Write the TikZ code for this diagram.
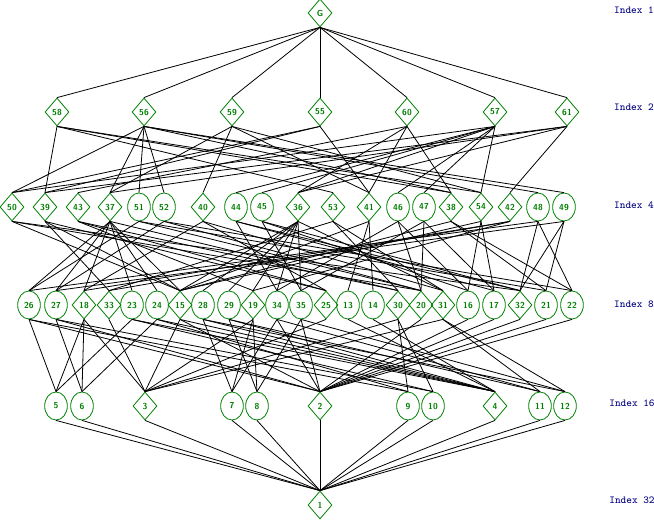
\documentclass[tikz,border=0pt]{standalone}
\usetikzlibrary{shapes.geometric}
\definecolor{vgreen}{rgb}{0,0.5,0}
\definecolor{idxblue}{rgb}{0,0,0.5}
\begin{document}
\begin{tikzpicture}[x=0.75pt,y=-0.75pt,
    nsub/.style={diamond,draw=vgreen,text=vgreen,inner sep=0pt,
      minimum width=18pt,minimum height=21pt,line width=0.6pt,
      font=\fontsize{6.5}{6.5}\sffamily\bfseries},
    csub/.style={ellipse,draw=vgreen,text=vgreen,inner sep=0pt,
      minimum width=17pt,minimum height=21pt,line width=0.6pt,
      font=\fontsize{6.5}{6.5}\sffamily\bfseries},
    idx/.style={text=idxblue,font=\fontsize{8}{8}\ttfamily},
    edge/.style={line width=0.6pt}]
    \useasboundingbox (0,0) rectangle (654,519);
    % levels
    \node[idx] (i1) at (634,10) {Index 1};
    \node[idx] (i2) at (634,107) {Index 2};
    \node[idx] (i4) at (634,205) {Index 4};
    \node[idx] (i8) at (634,304) {Index 8};
    \node[idx] (i16) at (632,403) {Index 16};
    \node[idx] (i32) at (632,500) {Index 32};
    % subgroups
    \node[nsub] (G) at (320,13) {G};
    \foreach \n/\x in {58/57,56/144,59/232,55/320,60/407,57/495,61/567}
        \node[nsub] (n\n) at (\x,112) {\n};
    \foreach \n/\x in {50/12,39/45,43/78,37/110,40/203,36/298,53/333,41/369,38/451,54/481,42/510}
        \node[nsub] (n\n) at (\x,207) {\n};
    \foreach \n/\x in {51/139,52/164,44/236,45/262,46/398,47/424,48/538,49/564}
        \node[csub] (n\n) at (\x,207) {\n};
    \foreach \n/\x in {18/84,33/109,15/180,19/253,25/326,30/398,20/421,31/443,32/520}
        \node[nsub] (n\n) at (\x,305) {\n};
    \foreach \n/\x in {26/29,27/56,23/132,24/157,28/203,29/229,34/277,35/301,13/348,14/373,16/468,17/494,21/546,22/572}
        \node[csub] (n\n) at (\x,305) {\n};
    \foreach \n/\x in {3/145,2/320,4/495}
        \node[nsub] (n\n) at (\x,406) {\n};
    \foreach \n/\x in {5/56,6/82,7/232,8/257,9/408,10/433,11/540,12/565}
        \node[csub] (n\n) at (\x,406) {\n};
    \node[nsub] (n1) at (320,505) {1};
    % inclusions
    \foreach \b in {58,56,59,55,60,57,61}
        \draw[edge] (G.south) -- (n\b.north);
    \foreach \a/\b in {58/39,58/38,58/54,58/53,
        56/50,56/51,56/52,56/37,56/38,56/48,56/49,
        59/41,59/37,59/54,59/40,
        55/50,55/39,55/41,
        60/41,60/38,60/36,60/43,
        57/50,57/46,57/47,57/36,57/54,57/44,57/45,
        61/39,61/37,61/36,61/42}
        \draw[edge] (n\a.south) -- (n\b.north);
    \foreach \a/\b in {50/20,50/32,50/15,
        51/20,51/21,51/26, 52/20,52/22,52/27,
        46/20,46/16,46/34, 47/20,47/17,47/35,
        39/33,39/25,39/15, 41/13,41/14,41/15,
        37/15,37/18,37/30,37/26,37/27,37/23,37/24,
        38/15,38/21,38/22, 48/32,48/22,48/26, 49/32,49/21,49/27,
        36/15,36/19,36/31,36/34,36/35,36/28,36/29,
        54/15,54/16,54/17, 44/32,44/17,44/34, 45/32,45/16,45/35,
        42/33,42/18,42/19, 53/33,53/30,53/31,
        40/25,40/18,40/31, 43/25,43/30,43/19}
        \draw[edge] (n\a.south) -- (n\b.north);
    \foreach \a/\b in {33/3,25/3,13/4,14/4,
        20/2,32/2,21/2,22/2,16/2,17/2,
        15/2,15/3,15/4,
        18/3,18/5,18/6, 19/3,19/7,19/8, 30/3,30/9,30/10, 31/3,31/11,31/12,
        26/2,26/5,26/9, 27/2,27/6,27/10, 34/2,34/7,34/11, 35/2,35/8,35/12,
        23/4,23/5,23/10, 24/4,24/6,24/9, 28/4,28/7,28/12, 29/4,29/8,29/11}
        \draw[edge] (n\a.south) -- (n\b.north);
    \foreach \a in {5,6,3,7,8,2,9,10,4,11,12}
        \draw[edge] (n\a.south) -- (n1.north);
\end{tikzpicture}
\end{document}
